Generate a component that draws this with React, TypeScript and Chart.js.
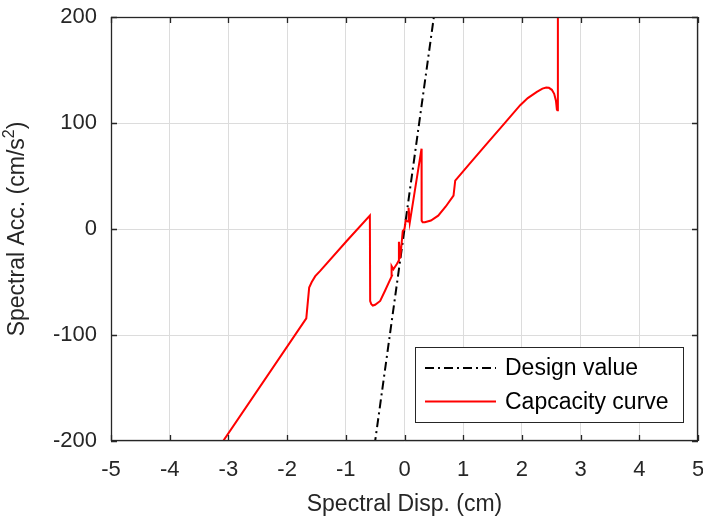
import React, { useEffect, useRef } from "react";
import { Chart, registerables } from "chart.js";

Chart.register(...registerables);

// Axis ticks
const xTicks = [-5, -4, -3, -2, -1, 0, 1, 2, 3, 4, 5];
const yTicks = [-200, -100, 0, 100, 200];

// Design value line (spectral disp. in cm, spectral acc. in cm/s²)
const designDisp = [-1, 1];
const designAcc = [-400, 400];

// Capacity curve
const capDisp = [
  -3.15, -1.673, -1.624, -1.58, -1.52, -1.436, -0.981, -0.59, -0.585, -0.565,
  -0.54, -0.5, -0.414, -0.33, -0.215, -0.22, -0.19, -0.13, -0.1, -0.095,
  -0.075, -0.05, -0.03, 0.0, 0.02, 0.06, 0.07, 0.09, 0.29, 0.292, 0.31, 0.347,
  0.45, 0.574, 0.7, 0.835, 0.864, 1.1, 1.404, 1.7, 1.971, 2.1, 2.255, 2.35,
  2.414, 2.46, 2.51, 2.55, 2.58, 2.596, 2.605, 2.613,
];
const capAcc = [
  -205, -84.3, -55.3, -50, -44.5, -39.5, -11.1, 12.6, -68, -71, -72.2, -71.5,
  -67.9, -58, -44.2, -35, -38, -33, -30, -12, -28, -14, -2, 0, 8, 7, 20, 6,
  75.8, 7.9, 6.3, 6.3, 8, 12.6, 21, 31.5, 45.7, 61, 80.5, 99.4, 116.8, 123.5,
  129.4, 132.4, 133.5, 133.2, 131.3, 127.5, 121, 112.7, 112, 250,
];

const legendLabels = ["Design value", "Capcacity curve"];

const FONT = "'Liberation Sans', Arial, Helvetica, sans-serif";
const AXIS_COLOR = "#262626";

const decorations = {
  id: "decorations",
  afterDraw(chart: any) {
    const { ctx, chartArea } = chart;
    const { left, right, top, bottom } = chartArea;
    const xs = chart.scales.x;
    const ys = chart.scales.y;
    ctx.save();

    // frame
    ctx.strokeStyle = AXIS_COLOR;
    ctx.lineWidth = 1.3;
    ctx.strokeRect(left + 0.5, top + 0.5, right - left - 1, bottom - top - 1);

    // inward ticks on all four sides
    const tl = 6;
    ctx.beginPath();
    xTicks.forEach((v) => {
      const px = Math.round(xs.getPixelForValue(v)) + 0.5;
      ctx.moveTo(px, bottom);
      ctx.lineTo(px, bottom - tl);
      ctx.moveTo(px, top);
      ctx.lineTo(px, top + tl);
    });
    yTicks.forEach((v) => {
      const py = Math.round(ys.getPixelForValue(v)) + 0.5;
      ctx.moveTo(left, py);
      ctx.lineTo(left + tl, py);
      ctx.moveTo(right, py);
      ctx.lineTo(right - tl, py);
    });
    ctx.stroke();

    // x axis title
    ctx.fillStyle = AXIS_COLOR;
    ctx.font = `23px ${FONT}`;
    ctx.textAlign = "center";
    ctx.textBaseline = "alphabetic";
    ctx.fillText("Spectral Disp. (cm)", (left + right) / 2, 511);

    // y axis title with a raised exponent
    const mainPart = "Spectral Acc. (cm/s";
    const expPart = "2";
    const closePart = ")";
    ctx.save();
    ctx.translate(23.5, (top + bottom) / 2);
    ctx.rotate(-Math.PI / 2);
    ctx.textAlign = "left";
    ctx.font = `23px ${FONT}`;
    const wMain = ctx.measureText(mainPart).width;
    const wClose = ctx.measureText(closePart).width;
    ctx.font = `16px ${FONT}`;
    const wExp = ctx.measureText(expPart).width;
    const total = wMain + wExp + wClose;
    let cx = -total / 2;
    ctx.font = `23px ${FONT}`;
    ctx.fillText(mainPart, cx, 0);
    cx += wMain;
    ctx.font = `16px ${FONT}`;
    ctx.fillText(expPart, cx, -10);
    cx += wExp;
    ctx.font = `23px ${FONT}`;
    ctx.fillText(closePart, cx, 0);
    ctx.restore();

    // legend
    const bx = 415.5, by = 347.5, bw = 268, bh = 75;
    ctx.fillStyle = "#ffffff";
    ctx.fillRect(bx, by, bw, bh);
    ctx.strokeStyle = "#262626";
    ctx.lineWidth = 1;
    ctx.strokeRect(bx, by, bw, bh);

    const rows = [368, 401.5];
    ctx.lineWidth = 2;
    ctx.strokeStyle = "#000000";
    ctx.setLineDash([9, 4, 2, 4]);
    ctx.beginPath();
    ctx.moveTo(425, rows[0]);
    ctx.lineTo(496, rows[0]);
    ctx.stroke();
    ctx.setLineDash([]);
    ctx.strokeStyle = "#ff0000";
    ctx.beginPath();
    ctx.moveTo(425, rows[1]);
    ctx.lineTo(496, rows[1]);
    ctx.stroke();

    ctx.fillStyle = "#000000";
    ctx.font = `23px ${FONT}`;
    ctx.textAlign = "left";
    ctx.textBaseline = "middle";
    legendLabels.forEach((t, i) => ctx.fillText(t, 505, rows[i] + 1));
    ctx.restore();
  },
};

export default function App() {
  const ref = useRef<HTMLCanvasElement>(null);

  useEffect(() => {
    if (!ref.current) return;
    const chart = new Chart(ref.current, {
      type: "scatter",
      data: {
        datasets: [
          {
            label: legendLabels[1],
            data: capDisp.map((x, i) => ({ x, y: capAcc[i] })),
            showLine: true,
            borderColor: "#ff0000",
            borderWidth: 2,
            pointRadius: 0,
            tension: 0,
            order: 1,
          },
          {
            label: legendLabels[0],
            data: designDisp.map((x, i) => ({ x, y: designAcc[i] })),
            showLine: true,
            borderColor: "#000000",
            borderWidth: 2,
            borderDash: [9, 4, 2, 4],
            pointRadius: 0,
            order: 2,
          },
        ],
      },
      options: {
        responsive: false,
        animation: false,
        layout: { padding: { left: 0, top: 17, right: 5, bottom: 0 } },
        plugins: {
          legend: { display: false },
          tooltip: { enabled: false },
        },
        scales: {
          x: {
            type: "linear",
            min: -5,
            max: 5,
            afterBuildTicks: (s: any) => {
              s.ticks = xTicks.map((v) => ({ value: v }));
            },
            afterFit: (s: any) => {
              s.height = 79;
              s.paddingLeft = 0;
              s.paddingRight = 0;
            },
            ticks: {
              color: AXIS_COLOR,
              font: { family: FONT, size: 22 },
              padding: 16,
              maxRotation: 0,
            },
            grid: { color: "#dcdcdc", drawTicks: false, lineWidth: 1 },
            border: { display: false },
          },
          y: {
            type: "linear",
            min: -200,
            max: 200,
            afterBuildTicks: (s: any) => {
              s.ticks = yTicks.map((v) => ({ value: v }));
            },
            afterFit: (s: any) => {
              s.width = 111;
              s.paddingTop = 0;
              s.paddingBottom = 0;
            },
            ticks: {
              color: AXIS_COLOR,
              font: { family: FONT, size: 22 },
              padding: 14,
            },
            grid: { color: "#dcdcdc", drawTicks: false, lineWidth: 1 },
            border: { display: false },
          },
        },
      },
      plugins: [decorations],
    });
    return () => chart.destroy();
  }, []);

  return (
    <div style={{ position: "fixed", left: 0, top: 0, width: 703, height: 520, background: "#ffffff" }}>
      <canvas ref={ref} width={703} height={520} style={{ display: "block" }} />
    </div>
  );
}
